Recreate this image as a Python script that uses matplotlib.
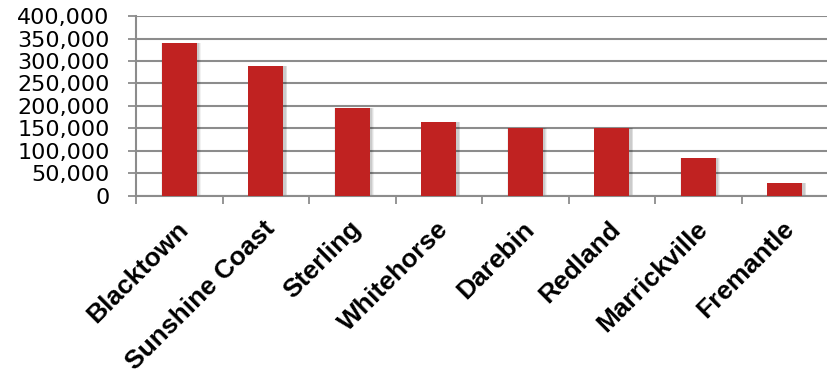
import matplotlib.pyplot as plt
import numpy as np
from matplotlib.ticker import FuncFormatter, FixedLocator
import matplotlib.transforms as mtransforms

# data
councils = ["Blacktown", "Sunshine Coast", "Sterling", "Whitehorse",
            "Darebin", "Redland", "Marrickville", "Fremantle"]
values = [340000, 288000, 196000, 165000, 152000, 150000, 84000, 29000]
y_ticks = [0, 50000, 100000, 150000, 200000, 250000, 300000, 350000, 400000]

plt.rcParams['font.family'] = ['Liberation Sans', 'DejaVu Sans']

fig = plt.figure(figsize=(8.28, 3.81), dpi=100)
ax = fig.add_axes([0.1643, 0.4856, 0.8357, 0.4724])

x = np.arange(len(councils))

# soft shadow behind the bars
for dw, a in [(0.06, 0.05), (0.04, 0.07), (0.02, 0.09)]:
    ax.bar(x + 0.02, np.array(values) + 1500, width=0.4 + dw, bottom=-1500,
           color="#000000", alpha=a, linewidth=0, zorder=2)
ax.bar(x, values, width=0.4, color="#C02221", linewidth=0, zorder=3)

# y axis
ax.set_ylim(0, 400000)
ax.set_yticks(y_ticks)
ax.yaxis.set_major_formatter(FuncFormatter(lambda v, p: f"{int(v):,}"))
ax.tick_params(axis='y', length=6, color="#8c8c8c", width=1.3, pad=13)
for lbl in ax.get_yticklabels():
    lbl.set_fontfamily('DejaVu Sans')
    lbl.set_fontsize(16)
ax.grid(axis='y', color="#8c8c8c", linewidth=1.5, zorder=0)

# x axis: ticks at category boundaries, labels at category centres
ax.set_xlim(-0.5, len(councils) - 0.5)
ax.xaxis.set_major_locator(FixedLocator(np.arange(-0.5, len(councils), 1.0)))
ax.xaxis.set_major_formatter(FuncFormatter(lambda v, p: ""))
ax.tick_params(axis='x', length=6, color="#8c8c8c", width=1.3)
ax.xaxis.set_minor_locator(FixedLocator(x))
ax.set_xticklabels(councils, minor=True, rotation=45, ha='right', va='top',
                   rotation_mode='anchor', fontsize=19, fontweight='bold')
ax.tick_params(axis='x', which='minor', length=0, pad=15)
offset = mtransforms.ScaledTranslation(-0.03, 0, fig.dpi_scale_trans)
for lbl in ax.get_xticklabels(minor=True):
    lbl.set_transform(lbl.get_transform() + offset)

for s in ["top", "right"]:
    ax.spines[s].set_visible(False)
for s in ["left", "bottom"]:
    ax.spines[s].set_color("#8c8c8c")
    ax.spines[s].set_linewidth(1.5)

fig.savefig("out.png", dpi=100)
